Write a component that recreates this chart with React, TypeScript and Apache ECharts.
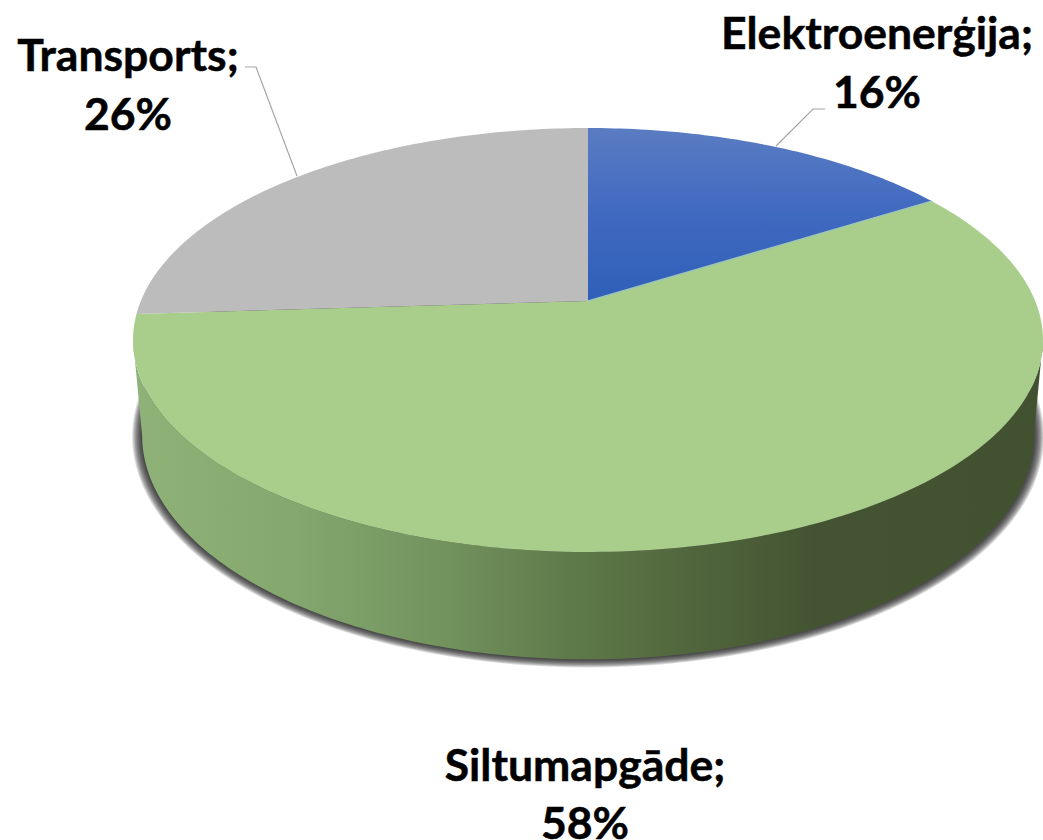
import React, { useEffect, useRef } from "react";
import * as echarts from "echarts";

const categories = ["Elektroenerģija", "Siltumapgāde", "Transports"];
const shares = [16, 58, 26];

const FONT = "Lato, Carlito, 'Open Sans', sans-serif";
const K = 0.184;
const APEX = { x: 588, y: 301 };
const A = 447.2;
const B = 204.8;
const TANGENT_START = 100.6;
const TANGENT_END = 259.4;
const HALO_LAYERS = [9, 8, 7, 6, 5, 4, 3, 2, 1];

const project = (deg: number, level: number, grow = 0) => {
  const t = (deg * Math.PI) / 180;
  const u = Math.sin(t);
  const v = Math.cos(t);
  const d = 1 + K * v;
  const sx = level ? 0.98 + (grow * 1.1) / 455 : 1;
  const sy = level ? 1.057 + (grow * 0.8) / 223 : 1;
  const dy = level ? 93 : 0;
  return [APEX.x + (sx * A * u) / d, APEX.y + dy - (sy * B * v) / d];
};

const arc = (from: number, to: number, level: number, grow = 0) => {
  const steps = Math.max(2, Math.ceil(Math.abs(to - from)));
  const pts: number[][] = [];
  for (let i = 0; i <= steps; i++) pts.push(project(from + ((to - from) * i) / steps, level, grow));
  return pts;
};

const total = shares.reduce((s, v) => s + v, 0);
const starts = shares.map((_, i) => shares.slice(0, i).reduce((s, v) => s + v, 0));

const topFills: any[] = [
  {
    type: "linear", x: 0, y: 0, x2: 0, y2: 1,
    colorStops: [
      { offset: 0, color: "#5a7cc2" },
      { offset: 0.5, color: "#4069c0" },
      { offset: 1, color: "#2f5fb8" },
    ],
  },
  "#a9cd8a",
  "#bcbcbc",
];

const sideFill = {
  type: "linear", x: 0, y: 0, x2: 1, y2: 0,
  colorStops: [
    { offset: 0, color: "#8fb279" },
    { offset: 0.18, color: "#84a76e" },
    { offset: 0.35, color: "#71915d" },
    { offset: 0.48, color: "#5f7a4a" },
    { offset: 0.62, color: "#50653c" },
    { offset: 0.75, color: "#445432" },
    { offset: 1, color: "#425130" },
  ],
};

const renderItem = (params: any, api: any) => {
  const i = params.dataIndex;
  const value = api.value(0);
  const a0 = (starts[i] / total) * 360;
  const a1 = a0 + (value / total) * 360;
  const children: any[] = [];
  const from = Math.max(a0, TANGENT_START);
  const to = Math.min(a1, TANGENT_END);
  if (to > from) {
    HALO_LAYERS.forEach((g) => {
      children.push({
        type: "polygon",
        z2: 1,
        shape: { points: arc(0, 360, 1, g) },
        style: { fill: "rgba(30,30,30,0.16)" },
      });
    });
    children.push({
      type: "polygon",
      z2: 2,
      shape: { points: [...arc(from, to, 0), ...arc(to, from, 1)] },
      style: { fill: sideFill },
    });
  }
  children.push({
    type: "polygon",
    z2: 3,
    shape: { points: [[APEX.x, APEX.y], ...arc(a0, a1, 0)] },
    style: { fill: topFills[i] },
  });
  if (i === 0) {
    children.push({
      type: "polyline",
      z2: 4,
      shape: { points: [[APEX.x, APEX.y], project(a1, 0)] },
      style: { stroke: "#9cc6b8", lineWidth: 1.5, fill: "none" },
    });
  }
  return { type: "group", children };
};

const labelStyle = {
  font: `700 44.5px ${FONT}`,
  fill: "#000000",
  stroke: "#000000",
  lineWidth: 0.5,
  textAlign: "center",
  textVerticalAlign: "middle",
};

const labelAt = (i: number, x: number, y: number, y2: number) => [
  { type: "text", x, y, z: 10, style: { ...labelStyle, text: `${categories[i]};` } },
  { type: "text", x, y: y2, z: 10, style: { ...labelStyle, text: `${shares[i]}%` } },
];

const leader = (points: number[][]) => ({
  type: "polyline",
  z: 9,
  shape: { points },
  style: { stroke: "#a6a6a6", lineWidth: 1.2, fill: "none" },
});

export default function App() {
  const ref = useRef<HTMLDivElement>(null);
  useEffect(() => {
    document.body.style.margin = "0";
    const chart = echarts.init(ref.current!, null, { renderer: "svg" });
    chart.setOption({
      animation: false,
      backgroundColor: "#ffffff",
      series: [
        {
          type: "custom",
          coordinateSystem: "none",
          silent: true,
          data: shares.map((v, i) => ({ name: categories[i], value: [v] })),
          renderItem,
        },
      ],
      graphic: [
        leader([[245, 67], [256, 67], [297, 176]]),
        leader([[825, 109], [813, 109], [776, 146]]),
        ...labelAt(0, 877, 31, 90),
        ...labelAt(1, 585, 763, 821),
        ...labelAt(2, 128, 53, 112),
      ],
    });
    return () => chart.dispose();
  }, []);
  return <div ref={ref} style={{ width: 1043, height: 840 }} />;
}
